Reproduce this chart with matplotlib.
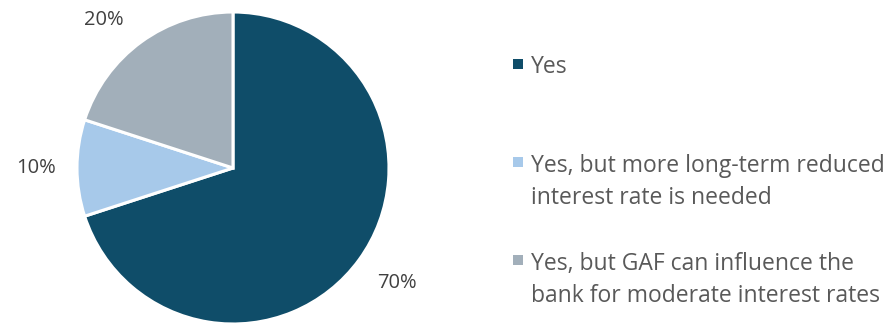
import numpy as np
import matplotlib
matplotlib.use("Agg")
import matplotlib.pyplot as plt
from matplotlib.patches import Rectangle

categories = [
    "Yes",
    "Yes, but more long-term reduced\ninterest rate is needed",
    "Yes, but GAF can influence the\nbank for moderate interest rates",
]
shares = [70, 10, 20]
colors = ["#0f4d69", "#a7c9ea", "#a2afba"]

plt.rcParams["font.family"] = ["Open Sans", "DejaVu Sans"]

W, H = 890, 323
fig = plt.figure(figsize=(W / 100, H / 100), dpi=100)

cx, cy, R = 233, 168, 156
ax = fig.add_axes([(cx - R) / W, (H - cy - R) / H, 2 * R / W, 2 * R / H])
wedges, _ = ax.pie(shares, colors=colors, startangle=90, counterclock=False,
                   radius=1.0, wedgeprops=dict(edgecolor="white", linewidth=2.2))
ax.set_xlim(-1, 1)
ax.set_ylim(-1, 1)
ax.set_aspect("equal")
ax.axis("off")

# slice mid-angles (degrees, measured counter-clockwise from +x)
frac = np.array(shares, dtype=float) / np.sum(shares)
ends = 90 - 360 * np.cumsum(frac)
starts = ends + 360 * frac
mids = (starts + ends) / 2

# data labels: radial distance and angle adjustment for each slice
label_pos = [(1.28, 1.0), (1.26, 0.0), (1.26, 5.0)]
for m, v, (r, dth) in zip(mids, shares, label_pos):
    th = np.deg2rad(m + dth)
    ax.text(r * np.cos(th), r * np.sin(th), f"{v}%", ha="center", va="center",
            fontsize=14.5, color="#404040", clip_on=False)

# legend drawn as squares with labels to the right;
# text is anchored on the baseline of its last line
square_y = [64, 162, 260]
last_baseline_y = [73, 204, 302]
for lab, col, sy, by in zip(categories, colors, square_y, last_baseline_y):
    fig.patches.append(Rectangle((513 / W, (H - sy - 5) / H), 10 / W, 10 / H,
                                 transform=fig.transFigure, facecolor=col,
                                 edgecolor="none"))
    fig.text(531 / W, (H - by) / H, lab, ha="left", va="baseline",
             fontsize=16.5, color="#595959", linespacing=1.47,
             transform=fig.transFigure)

fig.savefig("out.png", dpi=100)
